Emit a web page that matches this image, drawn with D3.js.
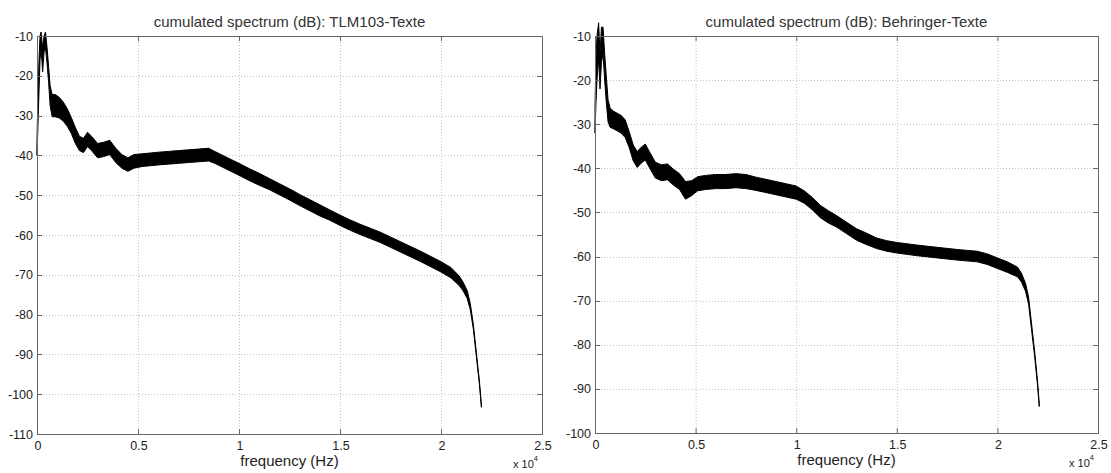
<!DOCTYPE html>
<html lang="en">
<head>
<meta charset="utf-8">
<title>cumulated spectrum</title>
<style>
  body { margin: 0; background: #fff; }
  svg text { font-family: "Liberation Sans", Arial, sans-serif; fill: #222; }
  .grid line { stroke: #c4c4c4; stroke-width: 1; stroke-dasharray: 1,2; }
  .frame { fill: none; stroke: #666; stroke-width: 1; }
</style>
<script src="https://d3js.org/d3.v7.min.js"></script>
</head>
<body>
<script>
// frequencies in kHz, level in dB, half = half width of the noise band (dB)
const tlmFreq = [0, 0.05, 0.1, 0.15, 0.2, 0.28, 0.35, 0.42, 0.5, 0.58, 0.65, 0.75, 0.9, 1.1, 1.3, 1.5, 1.7, 1.9, 2.1, 2.3, 2.5, 2.7, 3.0, 3.3, 3.6, 3.9, 4.2, 4.5, 4.8, 5.2, 5.6, 6.0, 6.5, 7.0, 7.5, 8.0, 8.5, 8.8, 9.2, 9.6, 10.0, 10.5, 11.0, 11.5, 12.0, 12.5, 13.0, 13.5, 14.0, 14.5, 15.0, 15.5, 16.0, 16.5, 17.0, 17.5, 18.0, 18.5, 19.0, 19.5, 20.0, 20.5, 20.9, 21.1, 21.3, 21.45, 21.6, 21.75, 21.9, 22.0];
const tlmLevel = [-38, -28, -20, -13, -11, -16, -12, -11, -15, -20, -25, -27.5, -27.5, -28, -29, -30.5, -32.5, -35, -37, -37.5, -36, -37, -38.8, -38.5, -38, -40, -41.5, -42.3, -41.5, -41.2, -41, -40.8, -40.6, -40.4, -40.2, -40, -39.8, -40.5, -41.5, -42.5, -43.5, -44.8, -46, -47.2, -48.5, -49.8, -51.2, -52.5, -53.8, -55, -56.3, -57.5, -58.6, -59.6, -60.6, -61.8, -63, -64.2, -65.4, -66.7, -68, -69.5, -71.5, -73, -75, -78, -83, -90, -97, -103];
const tlmHalf = [2, 4, 4, 3, 2, 3, 2, 2, 2, 2, 2.5, 2.8, 2.8, 2.6, 2.4, 2.2, 2, 2, 1.8, 1.8, 1.8, 1.8, 1.8, 1.8, 1.8, 1.8, 1.7, 1.7, 1.7, 1.6, 1.6, 1.6, 1.6, 1.6, 1.6, 1.6, 1.6, 1.5, 1.5, 1.5, 1.5, 1.5, 1.5, 1.4, 1.4, 1.4, 1.4, 1.4, 1.4, 1.3, 1.3, 1.3, 1.3, 1.3, 1.3, 1.3, 1.3, 1.3, 1.3, 1.3, 1.3, 1.3, 1.2, 1.1, 1, 0.8, 0.6, 0.5, 0.4, 0.3];

const behFreq = [0, 0.05, 0.1, 0.18, 0.25, 0.32, 0.4, 0.48, 0.56, 0.65, 0.75, 0.9, 1.1, 1.3, 1.5, 1.7, 1.9, 2.1, 2.3, 2.5, 2.7, 3.0, 3.3, 3.6, 3.9, 4.2, 4.5, 4.8, 5.1, 5.5, 6.0, 6.5, 7.0, 7.5, 8.0, 8.5, 9.0, 9.5, 10.0, 10.4, 10.8, 11.2, 11.6, 12.0, 12.5, 13.0, 13.5, 14.0, 14.5, 15.0, 16.0, 17.0, 18.0, 19.0, 19.5, 20.0, 20.5, 21.0, 21.2, 21.4, 21.55, 21.7, 21.85, 22.0, 22.08];
const behLevel = [-29, -20, -15, -11, -18, -12, -11, -17, -22, -27, -28.5, -29, -29.5, -30, -31, -33.5, -36.5, -38, -37, -36.3, -38, -40.4, -41, -40.8, -42, -43, -45, -44.5, -43.5, -43.2, -43, -43, -42.8, -43, -43.5, -44, -44.5, -45, -45.5, -46.5, -48, -49.8, -51, -52, -53.5, -55, -56, -57, -57.6, -58, -58.6, -59.1, -59.6, -60, -60.6, -61.5, -62.4, -63.5, -64.8, -67, -70, -76, -82, -89, -93.7];
const behHalf = [3, 5, 5, 4, 4, 4, 3, 3, 3, 2.5, 2.2, 2, 2, 2, 2, 1.8, 1.8, 1.8, 1.8, 1.8, 1.8, 1.8, 1.8, 1.8, 1.8, 1.8, 2, 1.7, 1.6, 1.6, 1.6, 1.6, 1.6, 1.6, 1.5, 1.5, 1.5, 1.5, 1.5, 1.4, 1.4, 1.4, 1.4, 1.3, 1.3, 1.3, 1.3, 1.2, 1.2, 1.2, 1.2, 1.2, 1.2, 1.2, 1.2, 1.2, 1.2, 1.1, 1, 0.9, 0.8, 0.7, 0.6, 0.5, 0.3];

const xTicks = [0, 0.5, 1, 1.5, 2, 2.5];

const svg = d3.select("body").append("svg")
    .attr("width", 1111)
    .attr("height", 473);

function panel(opt) {
    const x = d3.scaleLinear().domain([0, 25]).range([opt.left, opt.right]);
    const y = d3.scaleLinear().domain(opt.yDomain).range([opt.bottom, opt.top]);
    const g = svg.append("g");
    const yTicks = d3.range(opt.yDomain[0], opt.yDomain[1] + 1, 10);

    // dotted grid
    const grid = g.append("g").attr("class", "grid");
    grid.selectAll(".gx").data(xTicks.slice(1, -1)).enter().append("line")
        .attr("x1", d => x(d * 10) + 0.5).attr("x2", d => x(d * 10) + 0.5)
        .attr("y1", opt.top).attr("y2", opt.bottom);
    grid.selectAll(".gy").data(yTicks.slice(1, -1)).enter().append("line")
        .attr("x1", opt.left).attr("x2", opt.right)
        .attr("y1", d => Math.round(y(d)) + 0.5).attr("y2", d => Math.round(y(d)) + 0.5);

    // noise band
    const rows = opt.freq.map((f, i) => ({f: f, v: opt.level[i], h: opt.half[i]}));
    const area = d3.area()
        .x(d => x(d.f))
        .y0(d => y(d.v - d.h))
        .y1(d => y(d.v + d.h));
    g.append("path").datum(rows)
        .attr("d", area)
        .attr("fill", "#000")
        .attr("stroke", "#000")
        .attr("stroke-width", 1);

    // frame and inward ticks
    g.append("rect").attr("class", "frame")
        .attr("x", opt.left + 0.5).attr("y", opt.top + 0.5)
        .attr("width", opt.right - opt.left).attr("height", opt.bottom - opt.top);
    const tk = g.append("g").attr("stroke", "#666");
    xTicks.forEach(t => {
        const px = x(t * 10) + 0.5;
        tk.append("line").attr("x1", px).attr("x2", px).attr("y1", opt.bottom).attr("y2", opt.bottom - 5);
        tk.append("line").attr("x1", px).attr("x2", px).attr("y1", opt.top).attr("y2", opt.top + 5);
    });
    yTicks.forEach(t => {
        const py = Math.round(y(t)) + 0.5;
        tk.append("line").attr("x1", opt.left).attr("x2", opt.left + 5).attr("y1", py).attr("y2", py);
        tk.append("line").attr("x1", opt.right).attr("x2", opt.right - 5).attr("y1", py).attr("y2", py);
    });

    // tick labels
    g.selectAll(".yl").data(yTicks).enter().append("text")
        .attr("x", opt.left - 4).attr("y", d => y(d) + 4.5)
        .attr("text-anchor", "end")
        .style("font-size", "12.5px")
        .text(d => d);
    g.selectAll(".xl").data(xTicks).enter().append("text")
        .attr("x", d => x(d * 10) + 1).attr("y", opt.bottom + 16)
        .attr("text-anchor", "middle")
        .style("font-size", "12.5px")
        .text(d => d);

    const mid = (opt.left + opt.right) / 2;
    g.append("text").attr("x", mid).attr("y", 27)
        .attr("text-anchor", "middle")
        .style("font-size", "15px")
        .style("fill", "#333")
        .text(opt.title);
    g.append("text").attr("x", mid).attr("y", opt.bottom + 32)
        .attr("text-anchor", "middle")
        .style("font-size", "15px")
        .text("frequency (Hz)");
    const ex = g.append("text").attr("x", opt.right - 29).attr("y", opt.bottom + 34)
        .style("font-size", "11px");
    ex.append("tspan").text("x 10");
    ex.append("tspan").attr("dy", -7).style("font-size", "7.5px").text("4");
}

panel({
    left: 37, right: 542, top: 36, bottom: 434,
    yDomain: [-110, -10],
    freq: tlmFreq, level: tlmLevel, half: tlmHalf,
    title: "cumulated spectrum (dB): TLM103-Texte"
});

panel({
    left: 595, right: 1098, top: 36, bottom: 433,
    yDomain: [-100, -10],
    freq: behFreq, level: behLevel, half: behHalf,
    title: "cumulated spectrum (dB): Behringer-Texte"
});
</script>
</body>
</html>
